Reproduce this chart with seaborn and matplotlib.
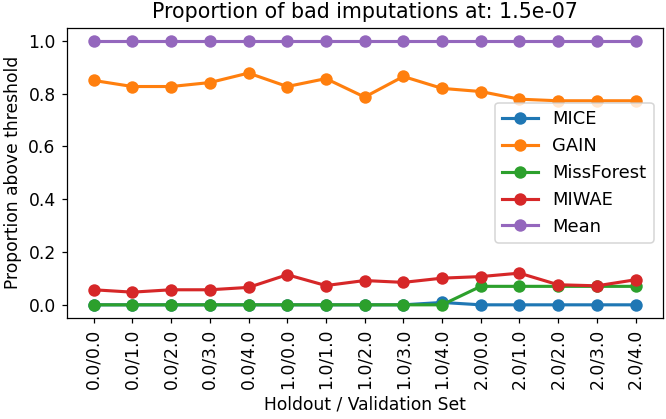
import pandas as pd
import matplotlib
matplotlib.use("Agg")
import matplotlib.pyplot as plt
import seaborn as sns

# --- data ---
splits = ["0.0/0.0", "0.0/1.0", "0.0/2.0", "0.0/3.0", "0.0/4.0",
          "1.0/0.0", "1.0/1.0", "1.0/2.0", "1.0/3.0", "1.0/4.0",
          "2.0/0.0", "2.0/1.0", "2.0/2.0", "2.0/3.0", "2.0/4.0"]
methods = ["MICE", "GAIN", "MissForest", "MIWAE", "Mean"]

mice = [0.0, 0.0, 0.0, 0.0, 0.0, 0.0, 0.0, 0.0, 0.0, 0.009,
        0.0, 0.0, 0.0, 0.0, 0.0]
gain = [0.850, 0.827, 0.827, 0.842, 0.878, 0.827, 0.857, 0.787, 0.865, 0.820,
        0.808, 0.779, 0.773, 0.773, 0.773]
missforest = [0.0, 0.0, 0.0, 0.0, 0.0, 0.0, 0.0, 0.0, 0.0, 0.0,
              0.070, 0.070, 0.070, 0.070, 0.070]
miwae = [0.057, 0.048, 0.057, 0.057, 0.066, 0.114, 0.073, 0.092, 0.085, 0.101,
         0.107, 0.120, 0.076, 0.072, 0.095]
mean = [1.0] * 15

series = [mice, gain, missforest, miwae, mean]
rows = []
for name, vals in zip(methods, series):
    for i, v in enumerate(vals):
        rows.append({"pos": i, "split": splits[i], "method": name, "value": v})
df = pd.DataFrame(rows)

DPI = 112
fig, ax = plt.subplots(figsize=(666 / DPI, 419 / DPI), dpi=DPI)
palette = dict(zip(methods, sns.color_palette("tab10", 5)))

for name in methods:
    sub = df[df["method"] == name]
    sns.lineplot(data=sub, x="pos", y="value", color=palette[name], marker="o",
                 markersize=8, markeredgewidth=0, linewidth=2, label=name, ax=ax)

ax.set_xticks(range(len(splits)))
ax.set_xticklabels(splits, rotation=90)
ax.tick_params(labelsize=11)
ax.margins(x=0.05, y=0.05)
ax.set_xlabel("Holdout / Validation Set", fontsize=11)
ax.set_ylabel("Proportion above threshold", fontsize=11)
ax.set_title("Proportion of bad imputations at: 1.5e-07", fontsize=13.2)
ax.legend(loc="center right", fontsize=11.5)

fig.subplots_adjust(left=0.100, right=0.995, top=0.934, bottom=0.241)
plt.savefig("out.png", dpi=DPI)
